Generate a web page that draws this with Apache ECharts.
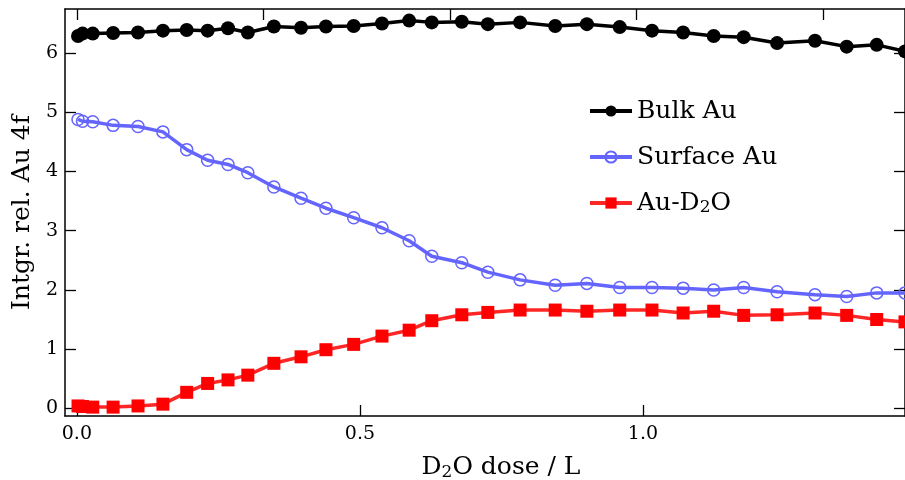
<!DOCTYPE html>
<html>
<head>
<meta charset="utf-8">
<script src="https://cdn.jsdelivr.net/npm/echarts@6/dist/echarts.min.js"></script>
<style>
  html, body { margin: 0; padding: 0; background: #fff; }
  #chart { width: 905px; height: 480px; }
</style>
</head>
<body>
<div id="chart"></div>
<script>
// D2O exposure (Langmuir) and integrated Au 4f component intensities
const dose = [0.002, 0.010, 0.028, 0.064, 0.108, 0.152, 0.194, 0.231, 0.267, 0.302,
              0.348, 0.396, 0.440, 0.489, 0.539, 0.587, 0.627, 0.680, 0.726, 0.783,
              0.845, 0.901, 0.959, 1.016, 1.071, 1.125, 1.178, 1.237, 1.304, 1.360,
              1.413, 1.463];
const bulkAu = [6.29, 6.33, 6.33, 6.34, 6.35, 6.38, 6.39, 6.38, 6.42, 6.35,
                6.45, 6.43, 6.45, 6.46, 6.50, 6.55, 6.52, 6.53, 6.49, 6.52,
                6.46, 6.49, 6.44, 6.38, 6.35, 6.29, 6.27, 6.17, 6.21, 6.11,
                6.14, 6.03];
const surfaceAu = [4.88, 4.85, 4.84, 4.78, 4.76, 4.67, 4.37, 4.19, 4.12, 3.98,
                   3.74, 3.55, 3.38, 3.22, 3.05, 2.83, 2.57, 2.46, 2.30, 2.17,
                   2.08, 2.11, 2.04, 2.04, 2.03, 2.00, 2.04, 1.97, 1.92, 1.89,
                   1.95, 1.95];
const auD2O = [0.04, 0.03, 0.02, 0.02, 0.04, 0.07, 0.27, 0.42, 0.48, 0.56,
               0.76, 0.87, 0.99, 1.08, 1.22, 1.32, 1.48, 1.58, 1.62, 1.66,
               1.66, 1.64, 1.66, 1.66, 1.61, 1.64, 1.57, 1.58, 1.61, 1.57,
               1.50, 1.46];

const xTicks = [0, 0.5, 1.0];
const xTopTicks = [0, 0.3295, 0.659, 0.9885, 1.318];
const yTicks = [0, 1, 2, 3, 4, 5, 6];

const FONT = '"DejaVu Serif", serif';
const pairs = (ys) => dose.map((d, i) => [d, ys[i]]);

const spine = { show: true, onZero: false, lineStyle: { color: '#000', width: 1.5 } };
const tickIn = (vals) => ({ show: true, inside: true, length: 11, customValues: vals,
                            lineStyle: { color: '#000', width: 1.3 } });

const chart = echarts.init(document.getElementById('chart'), null, { renderer: 'canvas' });
chart.setOption({
  animation: false,
  backgroundColor: '#fff',
  grid: { left: 65, right: 0, top: 9, bottom: 64, outerBoundsMode: 'none', containLabel: false },
  xAxis: [
    {
      type: 'value', min: -0.021, max: 1.463, position: 'bottom',
      axisLine: spine, axisTick: tickIn(xTicks), splitLine: { show: false },
      axisLabel: { customValues: xTicks, margin: 9, color: '#000', fontFamily: FONT, fontSize: 19,
                   formatter: (v) => v.toFixed(1) },
      name: '{t|D}{s|2}{t|O dose / L}', nameLocation: 'middle', nameGap: 38,
      nameTextStyle: {
        padding: [0, 0, 0, 32],
        rich: {
          t: { fontFamily: FONT, fontSize: 25, color: '#000' },
          s: { fontFamily: FONT, fontSize: 17, color: '#000', padding: [10, 0, 0, 0] }
        }
      }
    },
    {
      type: 'value', min: -0.021, max: 1.463, position: 'top',
      axisLine: spine, axisTick: tickIn(xTopTicks), axisLabel: { show: false },
      splitLine: { show: false }
    }
  ],
  yAxis: [
    {
      type: 'value', min: -0.13, max: 6.746, position: 'left',
      axisLine: spine, axisTick: tickIn(yTicks), splitLine: { show: false },
      axisLabel: { customValues: yTicks, margin: 7, color: '#000', fontFamily: FONT, fontSize: 19 },
      name: 'Intgr. rel. Au 4f', nameLocation: 'middle', nameGap: 30,
      nameTextStyle: { fontFamily: FONT, fontSize: 25, color: '#000' }
    },
    {
      type: 'value', min: -0.13, max: 6.746, position: 'right',
      axisLine: spine, axisTick: tickIn(yTicks), axisLabel: { show: false },
      splitLine: { show: false }
    }
  ],
  legend: {
    orient: 'vertical', left: 583, top: 93,
    itemWidth: 42, itemHeight: 14, itemGap: 20,
    lineStyle: { width: 4 },
    textStyle: {
      fontFamily: FONT, fontSize: 25, color: '#000', lineHeight: 26, padding: [0, 0, 0, 0],
      rich: {
        t: { fontFamily: FONT, fontSize: 25, color: '#000' },
        s: { fontFamily: FONT, fontSize: 17, color: '#000', padding: [10, 0, 0, 0] }
      }
    },
    formatter: (name) => name === 'Au-D2O' ? '{t|Au-D}{s|2}{t|O}' : '{t|' + name + '}',
    data: ['Bulk Au', 'Surface Au', 'Au-D2O']
  },
  series: [
    {
      name: 'Au-D2O', type: 'line', data: pairs(auD2O), z: 2,
      symbol: 'rect', symbolSize: 13,
      lineStyle: { color: '#ff0000', width: 3.5, opacity: 0.85 },
      itemStyle: { color: '#ff0000' }
    },
    {
      name: 'Surface Au', type: 'line', data: pairs(surfaceAu), z: 3,
      symbol: 'circle', symbolSize: 12,
      lineStyle: { color: '#6464ff', width: 3.5 },
      itemStyle: { color: 'rgba(255,255,255,0)', borderColor: '#6464ff', borderWidth: 1.5 }
    },
    {
      name: 'Bulk Au', type: 'line', data: pairs(bulkAu), z: 4,
      symbol: 'circle', symbolSize: 14,
      lineStyle: { color: '#000', width: 3.5 },
      itemStyle: { color: '#000' }
    }
  ]
});
</script>
</body>
</html>
